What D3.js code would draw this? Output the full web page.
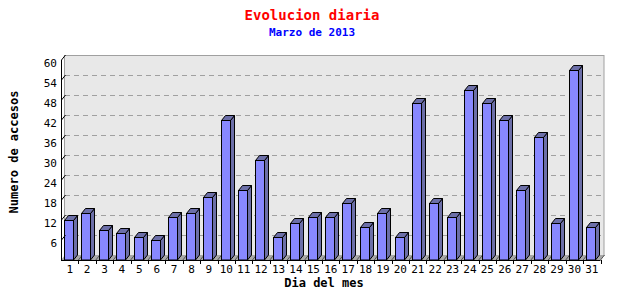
<!DOCTYPE html>
<html>
<head>
<meta charset="utf-8">
<script src="https://cdn.jsdelivr.net/npm/d3@7"></script>
<style>
  body { margin: 0; background: #fff; }
  text { font-family: "DejaVu Sans Mono", monospace; }
</style>
</head>
<body>
<div id="chart"></div>
<script>
var days = d3.range(1, 32).map(String);
var accesos = [12, 14, 9, 8, 7, 6, 13, 14, 19, 42, 21, 30, 7, 11, 13, 13, 17, 10, 14, 7,
               47, 17, 13, 51, 47, 42, 21, 37, 11, 57, 10];
var yTicks = [6, 12, 18, 24, 30, 36, 42, 48, 54, 60];

var svgWidth = 640;
var svgHeight = 300;
var depthX = 4, depthY = 5;

var svg = d3.select("#chart")
  .append("svg")
  .attr("width", svgWidth)
  .attr("height", svgHeight);

var x = d3.scaleBand()
  .domain(days)
  .range([61, 600.5]);

var y = d3.scaleLinear()
  .domain([0, 60])
  .range([260, 60]);

// plot background (back plane)
svg.append("rect")
  .attr("x", 61 + depthX - 0.5)
  .attr("y", y(60) - depthY + 0.5)
  .attr("width", 600.5 - 61)
  .attr("height", y(0) - y(60))
  .attr("fill", "#e8e8e8")
  .attr("stroke", "#a0a0a0");

// floor
svg.append("path")
  .attr("d", `M61,260 L600.5,260 L${600.5 + depthX},${260 - depthY} L${61 + depthX},${260 - depthY} Z`)
  .attr("fill", "#a8a8a8");

// grid lines
svg.selectAll(".grid")
  .data(yTicks.filter(d => d < 60))
  .enter()
  .append("line")
  .attr("x1", 61 + depthX)
  .attr("x2", 600.5 + depthX)
  .attr("y1", d => Math.round(y(d) - depthY) + 0.5)
  .attr("y2", d => Math.round(y(d) - depthY) + 0.5)
  .attr("stroke", "#a0a0a0")
  .attr("stroke-dasharray", "5,4");

// x tick diagonals on the floor
svg.selectAll(".xdiag")
  .data(days.slice(1).concat(["end"]))
  .enter()
  .append("line")
  .attr("x1", d => d === "end" ? 600.5 : x(d))
  .attr("y1", 260)
  .attr("x2", d => (d === "end" ? 600.5 : x(d)) + depthX)
  .attr("y2", 260 - depthY)
  .attr("stroke", "#555");

// bars
var bars = svg.selectAll(".bar")
  .data(days)
  .enter()
  .append("g");

bars.append("path")
  .attr("d", (d, i) => {
    var x0 = Math.round(x(d) + 3) + 0.5, x1 = x0 + 9, top = Math.round(y(accesos[i])) + 0.5;
    return `M${x1},${top} L${x1 + depthX},${top - depthY} L${x1 + depthX},${260 - depthY} L${x1},260 Z`;
  })
  .attr("fill", "#6c6fa8")
  .attr("stroke", "#000");

bars.append("path")
  .attr("d", (d, i) => {
    var x0 = Math.round(x(d) + 3) + 0.5, x1 = x0 + 9, top = Math.round(y(accesos[i])) + 0.5;
    return `M${x0},${top} L${x0 + depthX},${top - depthY} L${x1 + depthX},${top - depthY} L${x1},${top} Z`;
  })
  .attr("fill", "#6c6fa8")
  .attr("stroke", "#000");

bars.append("rect")
  .attr("x", d => Math.round(x(d) + 3) + 0.5)
  .attr("y", (d, i) => Math.round(y(accesos[i])) + 0.5)
  .attr("width", 9)
  .attr("height", (d, i) => 260 - Math.round(y(accesos[i])) - 0.5)
  .attr("fill", "#8888ff")
  .attr("stroke", "#000");

// y axis
svg.append("line")
  .attr("x1", 61.5).attr("x2", 61.5)
  .attr("y1", y(60)).attr("y2", 260)
  .attr("stroke", "#000");

svg.selectAll(".ydiag")
  .data(yTicks)
  .enter()
  .append("line")
  .attr("x1", 61.5)
  .attr("y1", d => y(d))
  .attr("x2", 61.5 + depthX)
  .attr("y2", d => y(d) - depthY)
  .attr("stroke", "#000");

svg.selectAll(".ylab")
  .data(yTicks)
  .enter()
  .append("text")
  .attr("x", 57)
  .attr("y", d => y(d) + 7)
  .attr("text-anchor", "end")
  .attr("font-size", "11px")
  .text(d => d);

// x axis
svg.append("line")
  .attr("x1", 61).attr("x2", 600.5)
  .attr("y1", 260.5).attr("y2", 260.5)
  .attr("stroke", "#000");

svg.selectAll(".xtick")
  .data(days.slice(1).concat(["end"]))
  .enter()
  .append("line")
  .attr("x1", d => Math.round(d === "end" ? 600.5 : x(d)) + 0.5)
  .attr("x2", d => Math.round(d === "end" ? 600.5 : x(d)) + 0.5)
  .attr("y1", 260)
  .attr("y2", 264)
  .attr("stroke", "#000");

svg.selectAll(".xlab")
  .data(days)
  .enter()
  .append("text")
  .attr("x", d => x(d) + x.bandwidth() / 2)
  .attr("y", 273)
  .attr("text-anchor", "middle")
  .attr("font-size", "11px")
  .text(d => d);

// titles
svg.append("text")
  .attr("x", 312).attr("y", 20)
  .attr("text-anchor", "middle")
  .attr("font-size", "14px")
  .attr("font-weight", "bold")
  .attr("fill", "#ff0000")
  .text("Evolucion diaria");

svg.append("text")
  .attr("x", 312).attr("y", 36)
  .attr("text-anchor", "middle")
  .attr("font-size", "11px")
  .attr("font-weight", "bold")
  .attr("fill", "#0000ff")
  .text("Marzo de 2013");

svg.append("text")
  .attr("x", 324).attr("y", 287)
  .attr("text-anchor", "middle")
  .attr("font-size", "12px")
  .attr("font-weight", "bold")
  .text("Dia del mes");

svg.append("text")
  .attr("transform", "translate(18, 152) rotate(-90)")
  .attr("text-anchor", "middle")
  .attr("font-size", "12px")
  .attr("font-weight", "bold")
  .text("Numero de accesos");
</script>
</body>
</html>
